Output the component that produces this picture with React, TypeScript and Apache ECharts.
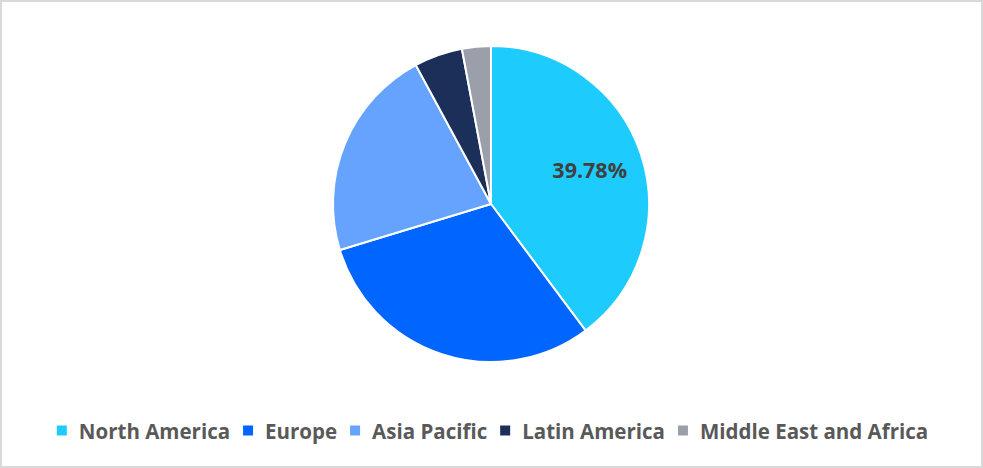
import React, { useEffect, useRef } from "react";
import * as echarts from "echarts";

const categories = ["North America", "Europe", "Asia Pacific", "Latin America", "Middle East and Africa"];
const shares = [39.78, 30.52, 21.8, 4.95, 2.95];
const colors = ["#1ECBFD", "#0066FF", "#66A3FF", "#1C2F59", "#9A9FAA"];
const labelled = ["North America"];

export default function App() {
  const ref = useRef<HTMLDivElement>(null);
  useEffect(() => {
    document.body.style.margin = "0";
    const chart = echarts.init(ref.current!, undefined, { renderer: "svg" });
    const data = categories.map((name, i) => ({ name, value: shares[i], itemStyle: { color: colors[i] } }));
    chart.setOption({
      animation: false,
      legend: {
        data: categories,
        left: "center",
        top: 415,
        icon: "rect",
        itemWidth: 12,
        itemHeight: 12,
        itemGap: 11,
        textStyle: {
          fontFamily: "Open Sans",
          fontWeight: "bold",
          fontSize: 20.5,
          color: "#595959",
          padding: [0, 0, 0, 6],
        },
      },
      series: [
        {
          type: "pie",
          center: [491, 204],
          radius: [0, 158],
          startAngle: 90,
          clockwise: true,
          data,
          itemStyle: { borderColor: "#ffffff", borderWidth: 2 },
          label: { show: false },
          labelLine: { show: false },
        },
        {
          type: "pie",
          center: [491, 202],
          radius: [0, 202],
          startAngle: 90,
          clockwise: true,
          silent: true,
          legendHoverLink: false,
          data: categories.map((name, i) => ({
            name,
            value: shares[i],
            itemStyle: { color: "rgba(0,0,0,0)" },
            label: { show: labelled.includes(name) },
          })),
          itemStyle: { borderWidth: 0 },
          label: {
            position: "inside",
            formatter: (p: any) => p.value.toFixed(2) + "%",
            fontFamily: "Open Sans",
            fontWeight: "bold",
            fontSize: 21.5,
            color: "#404040",
          },
          labelLine: { show: false },
          tooltip: { show: false },
        },
      ],
    });
    return () => chart.dispose();
  }, []);
  return (
    <div
      style={{
        position: "absolute",
        left: 0,
        top: 0,
        width: 983,
        height: 468,
        boxSizing: "border-box",
        border: "2px solid #d9d9d9",
        background: "#fff",
      }}
    >
      <div ref={ref} style={{ position: "absolute", left: -2, top: -2, width: 983, height: 468 }} />
    </div>
  );
}
